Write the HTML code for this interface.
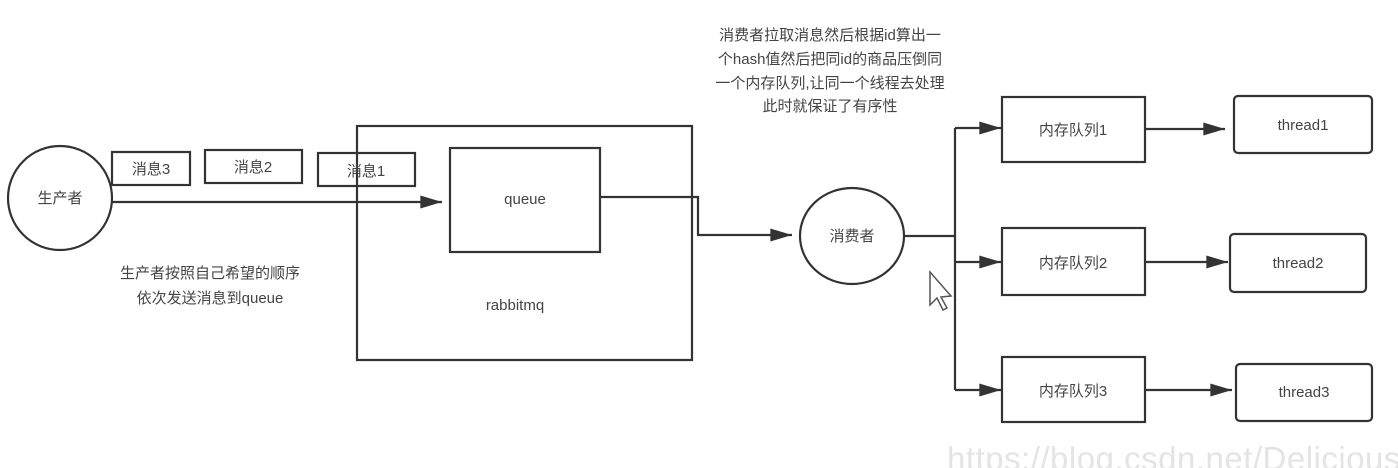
<!DOCTYPE html>
<html><head><meta charset="utf-8"><style>
html,body{margin:0;padding:0;background:#fff;overflow:hidden;}
svg{display:block;}
text{font-family:"Liberation Sans","Noto Sans CJK SC",sans-serif;fill:#444;}
</style></head><body>
<svg width="1398" height="468" viewBox="0 0 1398 468" xmlns="http://www.w3.org/2000/svg">
<defs>
<marker id="b" viewBox="0 0 20 12" markerWidth="22" markerHeight="13" refX="20" refY="6" orient="auto" markerUnits="userSpaceOnUse"><path d="M0,0 L20,6 L0,12 z" fill="#333"/></marker></defs>
<g stroke="#333" stroke-width="2.2" fill="none">
<ellipse cx="60" cy="198" rx="52" ry="52" fill="#fff"/>
<rect x="112" y="152" width="78" height="33"/>
<rect x="205" y="150" width="97" height="33"/>
<rect x="357" y="126" width="335" height="234"/>
<rect x="318" y="153" width="97" height="33" fill="#fff"/>
<line x1="357" y1="153" x2="357" y2="186"/>
<rect x="450" y="148" width="150" height="104"/>
<line x1="112" y1="202" x2="442" y2="202" marker-end="url(#b)"/>
<polyline points="600,197 698,197 698,235 792,235" marker-end="url(#b)"/>
<ellipse cx="852" cy="236" rx="52" ry="48" fill="#fff"/>
<line x1="904" y1="236" x2="955" y2="236"/>
<line x1="955" y1="128" x2="955" y2="390"/>
<line x1="955" y1="128" x2="1001" y2="128" marker-end="url(#b)"/>
<line x1="955" y1="262" x2="1001" y2="262" marker-end="url(#b)"/>
<line x1="955" y1="390" x2="1001" y2="390" marker-end="url(#b)"/>
<rect x="1002" y="97" width="143" height="65"/>
<rect x="1002" y="228" width="143" height="67"/>
<rect x="1002" y="357" width="143" height="65"/>
<line x1="1145" y1="129" x2="1225" y2="129" marker-end="url(#b)"/>
<line x1="1145" y1="262" x2="1228" y2="262" marker-end="url(#b)"/>
<line x1="1145" y1="390" x2="1232" y2="390" marker-end="url(#b)"/>
<rect x="1234" y="96" width="138" height="57" rx="4"/>
<rect x="1230" y="234" width="136" height="58" rx="4"/>
<rect x="1236" y="364" width="136" height="57" rx="4"/>
</g>
<path d="M930,272 L930,305 L937,298 L943,310 L947,308 L941,297 L951,296 z" fill="#fff" stroke="#555" stroke-width="1.5"/>
<g font-size="15" text-anchor="middle">
<text x="60" y="203">生产者</text>
<text x="151" y="174">消息3</text>
<text x="253" y="172">消息2</text>
<text x="366" y="176">消息1</text>
<text x="525" y="204">queue</text>
<text x="515" y="310">rabbitmq</text>
<text x="210" y="278">生产者按照自己希望的顺序</text>
<text x="210" y="303">依次发送消息到queue</text>
<text x="852" y="241">消费者</text>
<text x="1073" y="135">内存队列1</text>
<text x="1073" y="268">内存队列2</text>
<text x="1073" y="396">内存队列3</text>
<text x="1303" y="130">thread1</text>
<text x="1298" y="268">thread2</text>
<text x="1304" y="397">thread3</text>
<text x="830" y="40">消费者拉取消息然后根据id算出一</text>
<text x="830" y="64">个hash值然后把同id的商品压倒同</text>
<text x="830" y="88">一个内存队列,让同一个线程去处理</text>
<text x="830" y="111">此时就保证了有序性</text>
</g>
<text x="947" y="470" font-size="33" letter-spacing="0.5" style="fill:#e4e4e4">https://blog.csdn.net/Delicious</text>
</svg>
</body></html>
